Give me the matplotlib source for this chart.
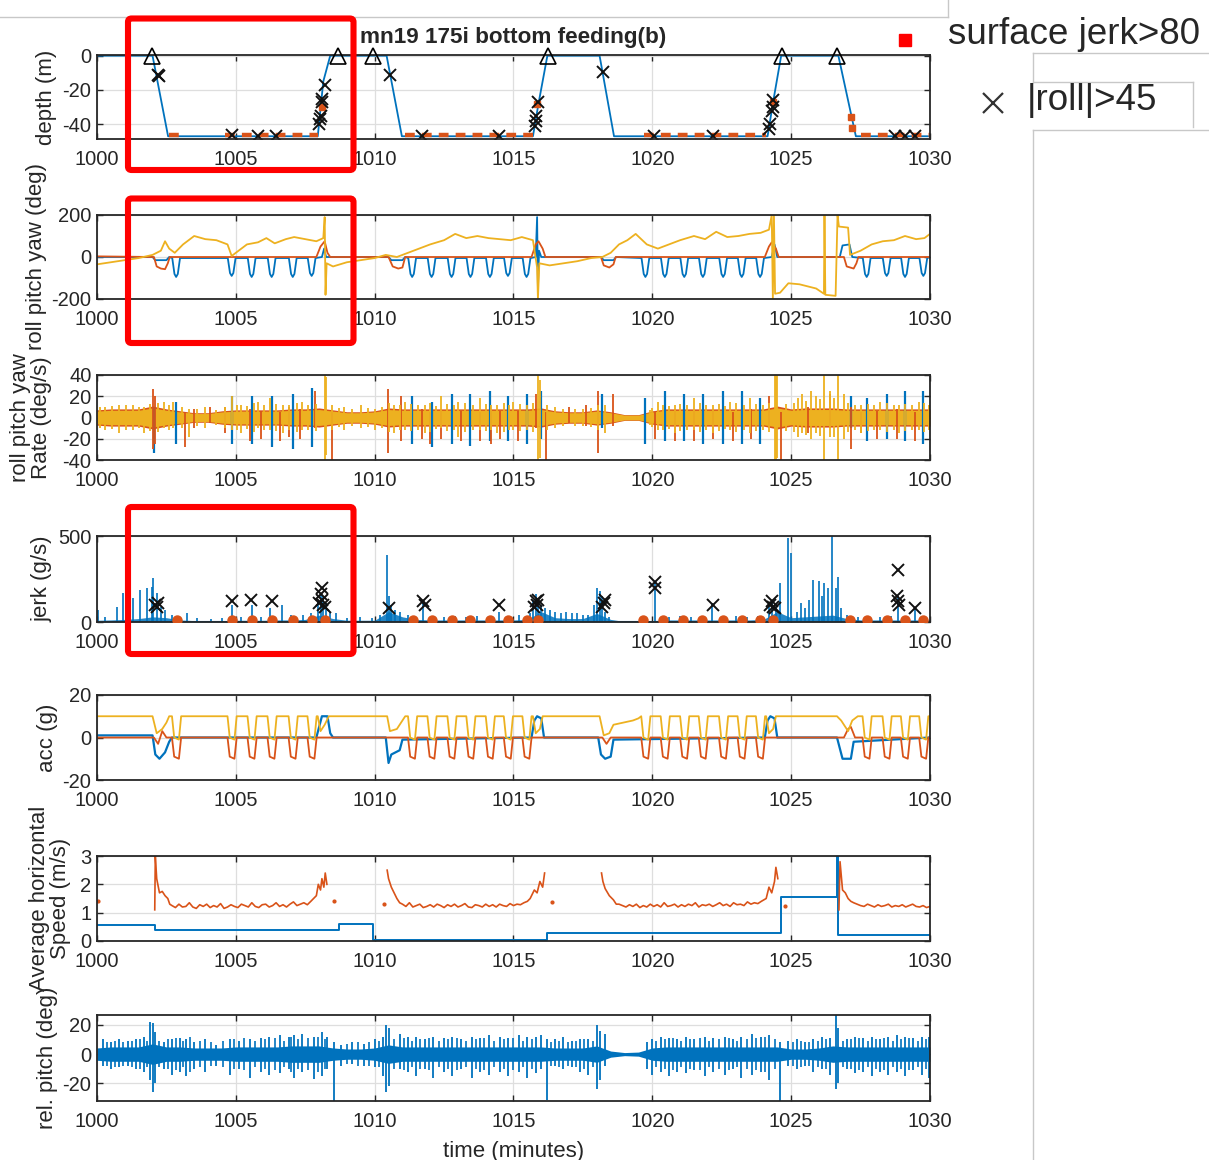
import matplotlib
matplotlib.use("Agg")
import matplotlib.pyplot as plt
import numpy as np
from matplotlib.patches import FancyBboxPatch
from matplotlib.lines import Line2D

plt.rcParams["font.family"] = ["Liberation Sans", "DejaVu Sans"]
plt.rcParams["axes.unicode_minus"] = False

BLUE, ORANGE, YELLOW = "#0072BD", "#D95319", "#EDB120"
INK = "#262626"

#%% values (time in minutes)
lunge_t = [1002.85, 1004.85, 1005.57, 1006.29, 1007.05, 1007.73,
           1011.35, 1012.05, 1012.77, 1013.45, 1014.15, 1014.8, 1015.47,
           1019.75, 1020.45, 1021.15, 1021.82, 1022.55, 1023.22, 1023.88,
           1027.72, 1028.44, 1029.1, 1029.76]
lunge_pitch = [-95, -90, -95, -95, -95, -90, -95, -95, -95, -95, -95, -90,
               -95, -95, -95, -95, -95, -95, -95, -95, -95, -90, -95, -90]

# depth
depth_t = [1000, 1002.0, 1002.56, 1007.95, 1008.15, 1008.4, 1010.43, 1010.98,
           1015.7, 1015.9, 1016.22, 1018.1, 1018.62, 1024.15, 1024.35, 1024.64,
           1026.7, 1027.33, 1030]
depth_v = [0, 0, -47, -47, -15, 0, 0, -47, -47, -28, 0, 0, -47, -47, -27, 0,
           0, -47, -47]
surface_t = [1001.98, 1008.69, 1009.95, 1016.26, 1024.66, 1026.64]
depth_x_t = [1002.2, 1002.22, 1004.85, 1005.8, 1006.45, 1008.2, 1008.12, 1008.1,
             1008.05, 1008.02, 1007.98, 1010.55, 1011.7, 1014.46, 1015.88,
             1015.82, 1015.8, 1015.78, 1018.23, 1020.05, 1022.2, 1024.35,
             1024.33, 1024.3, 1024.25, 1024.2, 1028.74, 1029.1, 1029.46]
depth_x_v = [-11, -12, -46.5, -47, -47, -17, -25, -27, -35, -37, -40, -11, -47,
             -47, -27, -35, -38, -41, -9.5, -47, -47, -26, -30, -32, -40, -43,
             -47, -47, -47]
bottom_marks = [(1002.6, 1003.1), (1004.6, 1007.95), (1011.1, 1015.7),
                (1019.7, 1024.1), (1027.5, 1030)]
depth_o_t = [1008.1, 1015.85, 1024.35, 1027.15, 1027.2]
depth_o_v = [-30, -28, -27, -36, -42]

# roll / pitch / yaw (deg)
pitch_base = [(1000, 0), (1002.0, 0), (1002.1, -15), (1002.5, -15), (1002.6, 0),
              (1008.1, 0), (1008.18, 40), (1008.25, 0), (1010.5, 0), (1010.6, -15),
              (1011.0, -15), (1011.1, 0), (1015.8, 0), (1015.85, 190),
              (1015.88, -150), (1015.92, 30), (1016.0, 0), (1018.15, 0),
              (1018.25, -15), (1018.6, -15), (1018.7, 0), (1024.3, 0),
              (1024.4, 60), (1024.5, 0), (1026.75, 0), (1026.85, 55),
              (1027.1, 60), (1027.2, 0), (1030, 0)]
roll_pts = [(1000, 3), (1002.05, 0), (1002.15, -45), (1002.3, -55), (1002.45, -58),
            (1002.55, -30), (1002.62, 0), (1007.9, 0), (1008.05, 50), (1008.2, 75),
            (1008.3, 20), (1008.4, 0), (1010.5, 0), (1010.65, -45), (1010.85, -55),
            (1011.0, -50), (1011.1, 0), (1015.65, 0), (1015.8, 60), (1015.9, 75),
            (1016.05, 40), (1016.15, 0), (1018.15, 0), (1018.25, -40),
            (1018.45, -50), (1018.6, -35), (1018.68, 0), (1024.05, 0),
            (1024.2, 50), (1024.3, 70), (1024.45, 40), (1024.55, 0), (1026.9, 0),
            (1027.0, -45), (1027.25, -55), (1027.35, -30), (1027.42, 0), (1030, 0)]
yaw_pts = [(1000, -35), (1000.5, -25), (1001, -15), (1001.5, -5), (1002, 10),
           (1002.3, 30), (1002.45, 75), (1002.6, 40), (1002.8, 20), (1003.1, 60),
           (1003.5, 100), (1003.9, 85), (1004.3, 80), (1004.7, 60), (1004.85, 5),
           (1005.1, 30), (1005.4, 60), (1005.8, 70), (1006.1, 90), (1006.4, 65),
           (1006.8, 85), (1007.1, 95), (1007.5, 85), (1007.9, 75), (1008.15, 90),
           (1008.2, 190), (1008.23, -180), (1008.27, -30), (1008.5, -45),
           (1009, -25), (1009.5, -15), (1010, -5), (1010.4, 10), (1010.8, 0),
           (1011.2, 20), (1011.6, 40), (1012.0, 60), (1012.5, 80), (1012.9, 110),
           (1013.3, 90), (1013.7, 100), (1014.1, 90), (1014.5, 85), (1014.9, 80),
           (1015.3, 95), (1015.7, 80), (1015.85, -50), (1015.88, -200),
           (1015.93, -30), (1016.3, -40), (1016.8, -30), (1017.3, -20),
           (1017.8, -5), (1018.2, 0), (1018.5, 20), (1018.8, 60), (1019.1, 80),
           (1019.4, 110), (1019.8, 60), (1020.2, 40), (1020.6, 60), (1021.0, 80),
           (1021.5, 100), (1021.9, 85), (1022.3, 120), (1022.7, 95), (1023.1, 100),
           (1023.5, 110), (1023.9, 115), (1024.2, 130), (1024.3, 200),
           (1024.34, -200), (1024.38, 200), (1024.42, -175), (1024.6, -170),
           (1024.9, -125), (1025.3, -130), (1025.6, -140), (1025.9, -150),
           (1026.18, -175), (1026.2, 200), (1026.23, -180), (1026.6, -185),
           (1026.67, 200), (1026.72, 145), (1027.05, 140), (1027.12, 10),
           (1027.5, 30), (1027.9, 60), (1028.3, 75), (1028.7, 80), (1029.1, 100),
           (1029.5, 85), (1029.8, 90), (1030, 110)]

# angular rates (deg/s): band amplitude every 0.5 min and spikes (t, lo, hi)
rate_amp = [8, 9, 9, 9, 12, 9, 7, 5, 5, 7, 8, 8, 8, 8, 9, 9, 10, 8, 6, 6, 7,
            10, 9, 9, 9, 9, 9, 9, 9, 9, 9, 9, 10, 7, 6, 6, 8, 6, 3, 3, 7, 9,
            9, 9, 9, 9, 9, 9, 9, 12, 9, 10, 10, 10, 9, 9, 9, 9, 9, 9, 9]
rate_blue_lo = [-25, -25, -25, -28, -30, -28, -25, -28, -25, -27, -22, -22,
                -25, -25, -22, -22, -25, -25, -25, -25, -22, -20, -22, -25]
rate_blue_hi = [15, 20, 20, 20, 22, 28, 20, 15, 22, 22, 25, 20, 22, 18, 25,
                22, 22, 25, 25, 18, 18, 22, 25, 25]
rate_blue_extra = [(1002.05, -33, 10), (1016.0, -20, 25), (1018.2, -10, 22),
                   (1027.15, -10, 20)]
rate_orange = [(1002.0, -30, 27), (1002.1, -25, 20), (1003.17, -28, 5),
               (1003.5, -10, 8), (1004.07, -5, 10), (1004.6, -15, 10),
               (1005.5, -22, 8), (1005.9, -20, 6), (1006.6, -22, 5),
               (1006.9, -18, 10), (1007.3, -20, 8), (1007.85, -10, 25),
               (1008.45, -40, 5), (1010.49, -33, 27), (1010.95, -22, 20),
               (1011.7, -20, 8), (1012.0, -25, 5), (1012.4, -20, 8),
               (1013.1, -22, 6), (1013.8, -22, 5), (1014.2, -25, 8),
               (1014.5, -20, 6), (1015.15, -22, 6), (1015.8, -10, 22),
               (1016.18, -40, 5), (1017.0, -5, 10), (1017.6, -8, 12),
               (1018.04, -33, 25), (1018.58, -8, 22), (1020.1, -20, 5),
               (1020.8, -22, 8), (1021.5, -22, 6), (1022.2, -20, 8),
               (1022.9, -22, 5), (1023.55, -20, 8), (1024.2, -10, 20),
               (1024.65, -40, 5), (1025.6, -15, 10), (1026.4, -10, 22),
               (1027.17, -30, 10), (1027.5, -15, 5), (1028.1, -20, 6),
               (1028.8, -20, 8), (1029.45, -22, 5)]
rate_yellow = [(1000.3, -12, 10), (1000.8, -15, 12), (1001.3, -12, 12),
               (1001.7, -15, 10), (1002.4, -10, 15), (1002.75, -10, 15),
               (1003.3, -18, 8), (1003.9, -10, 10), (1004.85, -12, 20),
               (1005.2, -15, 12), (1005.8, -10, 15), (1006.23, -12, 18),
               (1006.7, -15, 12), (1007.4, -12, 15), (1008.2, -40, 40),
               (1008.25, -35, 38), (1008.9, -12, 10), (1009.5, -10, 12),
               (1010.0, -12, 8), (1010.7, -15, 12), (1011.1, -12, 15),
               (1011.8, -15, 12), (1012.4, -10, 20), (1013.0, -18, 15),
               (1013.8, -12, 18), (1014.4, -15, 12), (1015.0, -12, 15),
               (1015.9, -40, 40), (1015.95, -38, 35), (1016.5, -10, 10),
               (1017.2, -8, 8), (1018.3, -15, 12), (1020.2, -12, 15),
               (1020.8, -15, 12), (1021.5, -12, 18), (1022.2, -15, 12),
               (1022.8, -12, 15), (1023.5, -15, 18), (1024.4, -40, 40),
               (1024.45, -40, 40), (1024.5, -38, 40), (1025.4, -15, 22),
               (1025.7, -20, 25), (1025.9, -15, 20), (1026.2, -40, 40),
               (1026.4, -18, 25), (1026.69, -40, 40), (1026.9, -20, 22),
               (1027.5, -15, 12), (1028.2, -12, 15), (1028.9, -15, 12),
               (1029.6, -12, 15)]
rate_yellow_small_t = [1000.1, 1000.55, 1001.05, 1001.5, 1001.9, 1002.2, 1002.6,
                       1003.05, 1003.6, 1004.3, 1004.6, 1005.05, 1005.4, 1005.65,
                       1006.0, 1006.45, 1006.9, 1007.2, 1007.6, 1007.9, 1008.45,
                       1008.7, 1009.2, 1009.75, 1010.25, 1010.5, 1010.9, 1011.3,
                       1011.55, 1012.0, 1012.2, 1012.6, 1012.85, 1013.25, 1013.55,
                       1014.0, 1014.2, 1014.65, 1014.85, 1015.25, 1015.5, 1015.7,
                       1016.2, 1016.8, 1017.5, 1017.8, 1018.05, 1019.9, 1020.0,
                       1020.4, 1020.6, 1021.0, 1021.25, 1021.7, 1021.95, 1022.4,
                       1022.6, 1023.0, 1023.3, 1023.75, 1024.0, 1024.2, 1024.8,
                       1025.1, 1025.25, 1025.55, 1026.05, 1026.55, 1027.05,
                       1027.3, 1027.75, 1028.0, 1028.45, 1028.7, 1029.1, 1029.35,
                       1029.8, 1029.95]
rate_yellow_small_a = [10, 11, 12, 10, 13, 14, 12, 10, 8, 7, 10, 12, 11, 14, 12,
                       13, 12, 14, 12, 13, 12, 9, 8, 9, 10, 14, 12, 13, 12, 14, 11,
                       13, 12, 14, 12, 13, 12, 14, 12, 13, 12, 14, 12, 8, 8, 9, 12,
                       7, 9, 12, 11, 13, 12, 14, 12, 13, 11, 14, 12, 13, 12, 14,
                       13, 14, 18, 16, 17, 18, 14, 12, 13, 12, 14, 12, 13, 12, 14,
                       12]

# jerk (g/s)
jerk_base = [10, 12, 15, 20, 30, 25, 12, 8, 8, 8, 10, 10, 10, 12, 12, 15, 40,
             20, 10, 10, 10, 60, 30, 15, 12, 12, 12, 12, 12, 12, 12, 15, 60, 25,
             20, 20, 50, 15, 3, 3, 8, 12, 12, 12, 12, 12, 12, 12, 15, 60, 25, 30,
             35, 40, 20, 12, 12, 12, 12, 12, 12]
jerk_spk_t = [1000.04, 1000.3, 1000.71, 1000.95, 1001.15, 1001.31, 1001.55,
              1001.79, 1001.97, 1002.03, 1002.15, 1002.3, 1002.45, 1002.7,
              1003.23, 1003.6, 1004.1, 1004.5, 1004.85, 1005.2, 1005.6, 1005.9,
              1006.23, 1006.65, 1007.0, 1007.43, 1007.7, 1007.95, 1008.05,
              1008.15, 1008.25, 1008.4, 1008.6, 1009.0, 1009.47, 1009.9, 1010.2,
              1010.43, 1010.5, 1010.6, 1010.75, 1010.9, 1011.2, 1011.5, 1011.75,
              1012.1, 1012.5, 1012.9, 1013.3, 1013.7, 1014.1, 1014.46, 1014.8,
              1015.2, 1015.6, 1015.72, 1015.82, 1015.9, 1016.0, 1016.15, 1016.3,
              1016.5, 1016.7, 1016.9, 1017.1, 1017.3, 1017.5, 1017.7, 1017.9,
              1018.0, 1018.1, 1018.2, 1018.3, 1018.45, 1020.1, 1020.6, 1021.0,
              1021.4, 1021.8, 1022.14, 1022.6, 1023.0, 1023.4, 1023.8, 1024.2,
              1024.3, 1024.45, 1024.6, 1024.88, 1024.98, 1025.2, 1025.35, 1025.5,
              1025.65, 1025.8, 1026.0, 1026.1, 1026.2, 1026.32, 1026.46, 1026.6,
              1026.69, 1026.8, 1027.0, 1027.4, 1027.8, 1028.2, 1028.6, 1028.85,
              1029.2, 1029.46, 1029.8]
jerk_spk_h = [68, 30, 88, 167, 60, 138, 185, 196, 204, 255, 167, 90, 70, 40,
              50, 25, 20, 25, 100, 30, 100, 30, 80, 100, 40, 40, 50, 120, 170,
              150, 110, 60, 50, 25, 30, 25, 40, 389, 150, 100, 70, 60, 40, 30,
              110, 35, 30, 35, 30, 35, 30, 60, 35, 40, 50, 130, 160, 140, 100,
              80, 70, 60, 55, 60, 50, 55, 40, 40, 100, 200, 180, 150, 60, 30,
              226, 30, 35, 30, 35, 109, 30, 35, 30, 35, 100, 120, 90, 226, 488,
              400, 60, 110, 80, 130, 243, 239, 150, 226, 200, 505, 200, 262, 80,
              40, 30, 35, 30, 35, 150, 30, 90, 35]
jerk_x_t = [1002.1, 1002.15, 1002.2, 1004.85, 1005.55, 1006.3, 1008.1, 1008.05,
            1008.1, 1008.0, 1008.15, 1008.2, 1010.5, 1011.75, 1011.8, 1014.46,
            1015.8, 1015.85, 1015.75, 1015.9, 1018.25, 1018.2, 1018.3, 1020.1,
            1020.1, 1022.2, 1024.25, 1024.35, 1024.3, 1024.4, 1028.85, 1028.8,
            1028.85, 1028.9, 1029.45]
jerk_x_v = [100, 85, 110, 120, 130, 120, 200, 160, 130, 110, 100, 90, 80, 120,
            100, 100, 120, 100, 90, 130, 110, 90, 130, 230, 200, 100, 100, 90,
            120, 80, 300, 150, 120, 100, 80]
jerk_o_t = [1002.87, 1004.85, 1005.57, 1006.29, 1007.07, 1007.73, 1008.21,
            1011.38, 1012.05, 1012.77, 1013.43, 1014.15, 1014.8, 1015.47,
            1015.88, 1019.67, 1020.39, 1021.1, 1021.78, 1022.55, 1023.22,
            1023.88, 1024.35, 1027.12, 1027.72, 1028.44, 1029.1, 1029.76]

# acceleration (g)
acc_yellow_base = [(1000, 10), (1002.0, 10), (1002.15, 2), (1002.35, 4),
                   (1002.5, 7), (1002.6, 10), (1007.95, 10), (1008.05, 3),
                   (1008.2, 6), (1008.35, 10), (1010.45, 10), (1010.55, 3),
                   (1010.8, 4), (1011.0, 8), (1011.1, 10), (1015.7, 10),
                   (1015.8, 2), (1015.95, 4), (1016.05, 10), (1018.1, 10),
                   (1018.25, 1), (1018.45, 2), (1018.6, 6), (1019.3, 8),
                   (1019.5, 9), (1024.1, 10), (1024.2, 2), (1024.35, 4),
                   (1024.45, 10), (1026.65, 10), (1026.8, 8), (1027.05, 3),
                   (1027.2, 8), (1027.4, 10), (1030, 10)]
acc_orange_base = [(1000, 0), (1002.05, 0), (1002.2, -3), (1002.35, 3),
                   (1002.5, 0), (1018.2, 0), (1018.35, -3), (1018.5, 0),
                   (1026.9, 0), (1027.05, 4), (1027.15, 5), (1027.3, 0),
                   (1030, 0)]
acc_blue = [(1000, 1), (1002.0, 1), (1002.1, -8), (1002.25, -10), (1002.45, -7),
            (1002.6, -2), (1002.7, 0), (1007.9, 0), (1008.0, 5), (1008.1, 10),
            (1008.3, 10), (1008.4, 2), (1008.5, 0), (1010.4, 0), (1010.5, -12),
            (1010.6, -8), (1010.9, -6), (1011.0, -1), (1015.65, 0), (1015.75, 8),
            (1015.85, 10), (1016.0, 9), (1016.1, 0), (1018.05, 0), (1018.15, -8),
            (1018.3, -10), (1018.5, -9), (1018.6, -1), (1024.05, 0),
            (1024.15, 8), (1024.25, 10), (1024.4, 9), (1024.5, 0), (1026.65, 0),
            (1026.75, -5), (1026.85, -10), (1027.15, -10), (1027.25, -2),
            (1030, 0)]

# speed (m/s)
spd_avg_t = [1000, 1002.1, 1008.7, 1009.95, 1016.2, 1024.65, 1026.65, 1026.7, 1030]
spd_avg_v = [0.58, 0.4, 0.6, 0.04, 0.3, 1.56, 3.0, 0.2, 0.2]
spd_pre = [([1002.08, 1002.1, 1002.15, 1002.25, 1002.35, 1002.45, 1002.55, 1002.62],
            [1.1, 3.0, 2.2, 1.7, 1.75, 1.6, 1.5, 1.3]),
           ([1010.45, 1010.5, 1010.6, 1010.7, 1010.8, 1010.9],
            [2.5, 2.2, 1.9, 1.7, 1.5, 1.35]),
           ([1018.17, 1018.22, 1018.3, 1018.45, 1018.6, 1018.7],
            [2.4, 2.1, 1.85, 1.6, 1.45, 1.3]),
           ([1026.72, 1026.76, 1026.85, 1026.95, 1027.05, 1027.15],
            [1.1, 2.8, 1.8, 1.7, 1.5, 1.4])]
spd_bulk_start = [1002.7, 1011.0, 1018.8, 1027.25]
spd_bulk = [[1.25, 1.18, 1.3, 1.2, 1.22, 1.35, 1.2, 1.15, 1.28, 1.22, 1.3, 1.18,
             1.25, 1.2, 1.32, 1.15, 1.2, 1.28, 1.22, 1.18, 1.3, 1.25, 1.2, 1.35,
             1.22, 1.18, 1.28, 1.3, 1.2, 1.25, 1.35, 1.22, 1.28, 1.2, 1.3, 1.38,
             1.25, 1.3, 1.35, 1.28, 1.4],
            [1.3, 1.22, 1.35, 1.2, 1.25, 1.3, 1.18, 1.22, 1.28, 1.2, 1.3, 1.25,
             1.18, 1.28, 1.22, 1.3, 1.2, 1.25, 1.32, 1.2, 1.18, 1.28, 1.25, 1.2,
             1.3, 1.22, 1.28, 1.2, 1.3, 1.25, 1.22, 1.32, 1.25, 1.3, 1.28, 1.35,
             1.4],
            [1.3, 1.25, 1.2, 1.28, 1.22, 1.3, 1.18, 1.25, 1.2, 1.3, 1.22, 1.28,
             1.2, 1.35, 1.22, 1.25, 1.3, 1.2, 1.28, 1.22, 1.3, 1.25, 1.35, 1.2,
             1.28, 1.25, 1.3, 1.22, 1.28, 1.35, 1.25, 1.3, 1.22, 1.35, 1.28,
             1.3, 1.25, 1.38, 1.3, 1.35, 1.32, 1.4],
            [1.35, 1.3, 1.25, 1.22, 1.3, 1.25, 1.2, 1.28, 1.22, 1.25, 1.3, 1.2,
             1.25, 1.22, 1.28, 1.2, 1.25, 1.3, 1.22, 1.2, 1.25, 1.18, 1.22]]
spd_post = [([1007.9, 1007.97, 1008.05, 1008.1, 1008.17, 1008.22, 1008.28],
             [1.6, 2.0, 1.8, 2.2, 1.9, 2.4, 2.0]),
            ([1015.6, 1015.75, 1015.85, 1015.95, 1016.05, 1016.12],
             [1.5, 1.8, 1.7, 2.1, 1.9, 2.4]),
            ([1024.1, 1024.2, 1024.3, 1024.4, 1024.45, 1024.52],
             [1.5, 1.9, 1.7, 2.1, 2.6, 2.2]),
            ([], [])]
spd_dots_t = [1000.02, 1008.55, 1010.35, 1016.38, 1024.78]
spd_dots_v = [1.4, 1.4, 1.3, 1.37, 1.25]

# relative pitch (deg)
relp_amp = [6, 7, 7, 7, 10, 7, 7, 6, 6, 6, 7, 7, 7, 7, 8, 8, 8, 6, 5, 5, 6, 9,
            7, 7, 7, 7, 7, 7, 7, 7, 7, 7, 7, 6, 6, 6, 8, 3, 1.5, 2, 6, 7, 7, 7,
            7, 7, 7, 7, 7, 7, 5, 5, 6, 8, 7, 7, 7, 7, 7, 7, 7]
relp_spk_t = [1000.2, 1000.5, 1000.8, 1001.1, 1001.4, 1001.7, 1001.9, 1002.0,
              1002.1, 1002.4, 1002.7, 1003.0, 1003.2, 1003.5, 1003.9, 1004.3,
              1004.8, 1005.1, 1005.5, 1005.9, 1006.2, 1006.6, 1006.9, 1007.1,
              1007.4, 1007.8, 1008.1, 1008.3, 1008.52, 1008.8, 1009.2, 1009.6,
              1010.0, 1010.3, 1010.4, 1010.5, 1010.9, 1011.2, 1011.5, 1011.8,
              1012.1, 1012.5, 1012.8, 1013.1, 1013.5, 1013.8, 1014.1, 1014.5,
              1014.8, 1015.2, 1015.5, 1015.8, 1016.0, 1016.2, 1016.5, 1016.8,
              1017.1, 1017.4, 1017.7, 1018.0, 1018.1, 1018.3, 1019.8, 1020.0,
              1020.3, 1020.6, 1020.9, 1021.2, 1021.5, 1021.9, 1022.2, 1022.6,
              1022.9, 1023.2, 1023.6, 1023.9, 1024.2, 1024.58, 1024.9, 1025.2,
              1025.5, 1025.8, 1026.1, 1026.4, 1026.6, 1026.7, 1027.0, 1027.3,
              1027.6, 1027.9, 1028.2, 1028.5, 1028.8, 1029.1, 1029.4, 1029.7,
              1029.95]
relp_spk_lo = [-8, -10, -9, -8, -10, -12, -18, -26, -20, -10, -14, -12, -15,
               -10, -12, -8, -14, -10, -16, -12, -14, -13, -10, -16, -12, -17,
               -15, -10, -32, -8, -7, -8, -9, -15, -26, -22, -10, -12, -15, -10,
               -16, -12, -15, -10, -16, -12, -14, -12, -15, -12, -16, -13, -10,
               -31, -8, -10, -9, -12, -14, -24, -18, -8, -10, -14, -12, -15,
               -12, -13, -11, -15, -12, -14, -10, -16, -14, -12, -18, -32, -8,
               -10, -8, -12, -10, -14, -24, -20, -10, -13, -12, -15, -12, -14,
               -12, -15, -11, -14, -16]
relp_spk_hi = [10, 8, 10, 9, 10, 12, 22, 21, 15, 8, 10, 11, 10, 8, 10, 6, 10, 9,
               10, 11, 12, 13, 12, 13, 14, 12, 15, 12, 8, 6, 8, 7, 10, 12, 20,
               18, 14, 12, 12, 10, 12, 11, 12, 10, 12, 11, 13, 12, 11, 13, 12,
               12, 13, 10, 10, 12, 9, 10, 10, 20, 16, 14, 8, 10, 12, 11, 10, 12,
               10, 12, 11, 12, 10, 12, 14, 12, 13, 8, 9, 10, 8, 10, 12, 11, 27,
               18, 10, 12, 11, 12, 10, 12, 13, 12, 11, 12, 12]
relp_minor_t = [1000.35, 1000.65, 1000.95, 1001.25, 1001.55, 1001.8, 1002.25,
                1002.55, 1002.85, 1003.1, 1003.35, 1003.7, 1004.1, 1004.55,
                1004.95, 1005.3, 1005.7, 1006.05, 1006.4, 1006.75, 1007.0,
                1007.25, 1007.6, 1007.95, 1008.2, 1009.0, 1009.4, 1009.8,
                1010.15, 1010.7, 1011.05, 1011.35, 1011.65, 1011.95, 1012.3,
                1012.65, 1012.95, 1013.3, 1013.65, 1013.95, 1014.3, 1014.65,
                1015.0, 1015.35, 1015.65, 1016.35, 1016.65, 1016.95, 1017.25,
                1017.55, 1017.85, 1020.15, 1020.45, 1020.75, 1021.05, 1021.35,
                1021.7, 1022.05, 1022.4, 1022.75, 1023.05, 1023.4, 1023.75,
                1024.05, 1024.4, 1025.05, 1025.35, 1025.65, 1025.95, 1026.25,
                1026.85, 1027.15, 1027.45, 1027.75, 1028.05, 1028.35, 1028.65,
                1028.95, 1029.25, 1029.55, 1029.85]
relp_minor_a = [8, 9, 8, 9, 10, 9, 9, 10, 11, 9, 12, 9, 8, 9, 10, 11, 9, 10, 11,
                9, 12, 10, 11, 12, 10, 7, 8, 8, 9, 10, 11, 9, 10, 11, 9, 10, 11,
                9, 10, 11, 9, 10, 11, 9, 10, 8, 9, 8, 9, 10, 9, 9, 10, 11, 9, 10,
                11, 9, 10, 11, 9, 10, 11, 12, 10, 8, 9, 8, 9, 10, 9, 10, 11, 9,
                10, 11, 9, 10, 11, 9, 10]

#%% helpers
W, H = 1209, 1160
L, R = 97, 930
band_t = np.linspace(1000, 1030, 61)   # 0.5 min sampling of the envelopes

fig = plt.figure(figsize=(W / 100, H / 100), dpi=100)


def panel(top, bottom, ylim, yticks, label, lx):
    ax = fig.add_axes([L / W, 1 - bottom / H, (R - L) / W, (bottom - top) / H])
    ax.set_xlim(1000, 1030)
    ax.set_ylim(*ylim)
    ax.set_xticks(range(1000, 1031, 5))
    ax.set_yticks(yticks)
    ax.grid(True, color="#dedede", lw=0.9)
    ax.set_axisbelow(True)
    ax.tick_params(direction="in", top=True, right=True, length=4, width=1,
                   colors=INK, labelsize=14.5)
    ax.tick_params(axis="x", pad=8)
    ax.tick_params(axis="y", pad=4)
    for s in ax.spines.values():
        s.set_color(INK)
        s.set_linewidth(1.3)
    ax.set_ylabel(label, fontsize=16, color=INK, linespacing=1.05, va="center")
    ax.yaxis.set_label_coords((lx - L) / (R - L), 0.5)
    return ax


def trace(points):
    pts = sorted(points)
    return [p[0] for p in pts], [p[1] for p in pts]


def spikes(ax, items, color, lw=1.3):
    ax.vlines([i[0] for i in items], [i[1] for i in items], [i[2] for i in items],
              color=color, lw=lw)


#%% depth
ax1 = panel(55, 139, (-48.6, 0.4), [-40, -20, 0], "depth (m)", 47)
ax1.plot(depth_t, depth_v, color=BLUE, lw=1.3)
for a, b in bottom_marks:
    ax1.plot([a, b], [-46.3, -46.3], color=ORANGE, lw=3.2, dashes=(2.2, 1.6))
ax1.plot(depth_o_t, depth_o_v, "s", color=ORANGE, ms=4)
ax1.plot(depth_x_t, depth_x_v, "x", color="#111111", ms=8, mew=1.4)
ax1.plot(surface_t, [0] * len(surface_t), "^", mfc="none", mec="black", ms=12,
         mew=1.2, clip_on=False, zorder=5)

#%% roll pitch yaw
ax2 = panel(215, 299, (-200, 200), [-200, 0, 200], "roll pitch yaw (deg)", 37)
pitch_pts = list(pitch_base)
for t, d in zip(lunge_t, lunge_pitch):
    pitch_pts += [(t - 0.14, -5), (t - 0.06, 0.85 * d), (t, d),
                  (t + 0.06, 0.85 * d), (t + 0.14, -5)]
ax2.plot(*trace(pitch_pts), color=BLUE, lw=1.3)
ax2.plot(*trace(roll_pts), color=ORANGE, lw=1.3)
ax2.plot(*trace(yaw_pts), color=YELLOW, lw=1.3)

#%% angular rate
ax3 = panel(375, 460, (-40, 40), [-40, -20, 0, 20, 40],
            "roll pitch yaw\nRate (deg/s)", 31)
spikes(ax3, [(t, lo, hi) for t, lo, hi in zip(lunge_t, rate_blue_lo, rate_blue_hi)]
       + rate_blue_extra, BLUE, lw=1.6)
ax3.fill_between(band_t, [-0.9 * a for a in rate_amp], [0.9 * a for a in rate_amp],
                 color=ORANGE, lw=0)
spikes(ax3, rate_orange, ORANGE)
ax3.fill_between(band_t, [-0.75 * a for a in rate_amp], [0.75 * a for a in rate_amp],
                 color=YELLOW, lw=0)
ax3.vlines(rate_yellow_small_t, [-a for a in rate_yellow_small_a],
           rate_yellow_small_a, color=YELLOW, lw=1.3)
spikes(ax3, rate_yellow, YELLOW)

#%% jerk
ax4 = panel(536, 622, (0, 500), [0, 500], "jerk (g/s)", 42)
ax4.fill_between(band_t, 0, jerk_base, color=BLUE, lw=0, alpha=0.85)
ax4.vlines(jerk_spk_t, 0, jerk_spk_h, color=BLUE, lw=1.2)
ax4.plot(band_t, [2] * len(band_t), color=BLUE, lw=1.5)
ax4.plot(jerk_o_t, [14] * len(jerk_o_t), "o", color=ORANGE, ms=6.5, zorder=4)
ax4.plot(jerk_x_t, jerk_x_v, "x", color="#111111", ms=8, mew=1.4, zorder=5)

#%% acceleration
ax5 = panel(695, 780, (-20, 20), [-20, 0, 20], "acc (g)", 48)
yel_pts = list(acc_yellow_base)
org_pts = list(acc_orange_base)
for t in lunge_t:
    yel_pts += [(t - 0.15, 10), (t - 0.07, 0), (t + 0.1, -1), (t + 0.18, 10)]
    org_pts += [(t - 0.15, 0), (t - 0.07, -9), (t + 0.1, -10), (t + 0.18, 0)]
ax5.plot(*trace(acc_blue), color=BLUE, lw=1.6)
ax5.plot(*trace(org_pts), color=ORANGE, lw=1.3)
ax5.plot(*trace(yel_pts), color=YELLOW, lw=1.3)

#%% speed
ax6 = panel(856, 941, (0, 3), [0, 1, 2, 3], "Average horizontal\nSpeed (m/s)", 50)
ax6.step(spd_avg_t, spd_avg_v, where="post", color=BLUE, lw=1.4)
for (pt, pv), t0, bulk, (qt, qv) in zip(spd_pre, spd_bulk_start, spd_bulk, spd_post):
    bt = list(t0 + 0.125 * np.arange(len(bulk)))
    ax6.plot(pt + bt + qt, pv + bulk + qv, color=ORANGE, lw=1.2)
ax6.plot(spd_dots_t, spd_dots_v, ".", color=ORANGE, ms=4)

#%% relative pitch
ax7 = panel(1015, 1101, (-32, 26.7), [-20, 0, 20], "rel. pitch (deg)", 48)
ax7.fill_between(band_t, [-0.7 * a for a in relp_amp], [0.7 * a for a in relp_amp],
                 color=BLUE, lw=0)
ax7.vlines(relp_minor_t, [-a for a in relp_minor_a], relp_minor_a, color=BLUE, lw=1.2)
ax7.vlines(relp_spk_t, relp_spk_lo, relp_spk_hi, color=BLUE, lw=1.3)
ax7.set_xlabel("time (minutes)", fontsize=16, color=INK, labelpad=7)

#%% annotations around the panels
fig.text(513 / W, 1 - 37 / H, "mn19 175i bottom feeding(b)", ha="center",
         va="center", fontsize=16.2, fontweight="bold", color=INK)

for y0, y1 in [(18.5, 170), (198.5, 343), (507, 654)]:
    fig.patches.append(FancyBboxPatch((128 / W, 1 - y1 / H), 225.5 / W, (y1 - y0) / H,
                                      boxstyle="round,pad=0,rounding_size=0.003",
                                      transform=fig.transFigure, fill=False,
                                      ec="#FF0000", lw=4.4, zorder=10))

frame = [([0, 948], [17, 17]), ([948, 948], [0, 17]),
         ([1033, 1209], [53, 53]), ([1033, 1033], [53, 82]),
         ([1033, 1193], [82, 82]), ([1193, 1193], [82, 127]),
         ([1033, 1209], [130, 130]), ([1033, 1033], [130, 1160])]
for xs, ys in frame:
    fig.add_artist(Line2D([x / W for x in xs], [1 - y / H for y in ys],
                          transform=fig.transFigure, color="#c8c8c8", lw=1))

fig.add_artist(Line2D([905 / W], [1 - 40 / H], transform=fig.transFigure,
                      marker="s", ms=9, color="#FF0000", ls="none"))
fig.text(948 / W, 1 - 35 / H, "surface jerk>80", fontsize=26.5, va="center",
         color=INK)
fig.add_artist(Line2D([993 / W], [1 - 103 / H], transform=fig.transFigure,
                      marker="x", ms=14, mew=1.6, color="#333333", ls="none"))
fig.text(1027 / W, 1 - 100 / H, "|roll|>45", fontsize=26.5, va="center", color=INK)

fig.savefig("out.png", dpi=100)
